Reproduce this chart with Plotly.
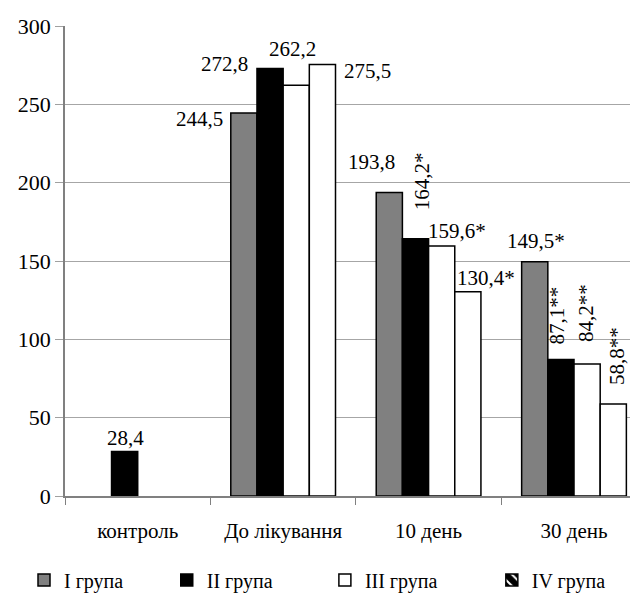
import plotly.graph_objects as go

categories = ["контроль", "До лікування", "10 день", "30 день"]
group_names = ["I група", "II група", "III група", "IV група"]
group1 = [None, 244.5, 193.8, 149.5]
group2 = [28.4, 272.8, 164.2, 87.1]
group3 = [None, 262.2, 159.6, 84.2]
group4 = [None, 275.5, 130.4, 58.8]
label_texts = [
    [None, "244,5", "193,8", "149,5*"],
    ["28,4", "272,8", "164,2*", "87,1**"],
    [None, "262,2", "159,6*", "84,2**"],
    [None, "275,5", "130,4*", "58,8**"],
]
y_ticks = [0, 50, 100, 150, 200, 250, 300]

# label placement (pixel offsets from category centre / bar top, rotation)
label_pos = [
    [None, (-84, -6, 0), (-57, 30, 0), (-38, 21, 0)],
    [(-12, 14, 0), (-59, 5, 0), (-7, 57, -90), (-17, 44, -90)],
    [None, (9, 36, 0), (28, 15, 0), (12, 51, -90)],
    [None, (84, -7, 0), (57, 14, 0), (43, 48, -90)],
]
legend_x = [0.0254, 0.252, 0.503, 0.768]

FONT = "Liberation Serif, Times New Roman, serif"
fill = ["#808080", "#000000", "#ffffff", "#ffffff"]
series = [group1, group2, group3, group4]
legend_ids = ["legend", "legend2", "legend3", "legend4"]

fig = go.Figure()
for i, (name, vals) in enumerate(zip(group_names, series)):
    fig.add_trace(go.Bar(
        x=categories, y=vals, name=name,
        marker=dict(color=fill[i], line=dict(color="#000000", width=1.5)),
        offsetgroup=str(i), showlegend=(i < 3), legend=legend_ids[i],
        hoverinfo="skip",
    ))
# legend entry for IV group (hatched icon)
fig.add_trace(go.Bar(
    x=categories, y=[None] * 4, name=group_names[3], offsetgroup="3",
    marker=dict(color="#ffffff", line=dict(color="#000000", width=1.5),
                pattern=dict(shape="\\", fgcolor="#000000", bgcolor="#ffffff",
                             fillmode="replace", size=10, solidity=0.75)),
    showlegend=True, legend="legend4",
))

for i, vals in enumerate(series):
    for j, v in enumerate(vals):
        if v is None:
            continue
        dx, dy, ang = label_pos[i][j]
        fig.add_annotation(
            x=categories[j], y=v, xshift=dx, yshift=dy, text=label_texts[i][j],
            showarrow=False, textangle=ang, xanchor="center", yanchor="middle",
            font=dict(family=FONT, size=21, color="#000000"),
        )

legend_common = dict(orientation="h", xref="container", xanchor="left",
                     yref="container", y=0.032, yanchor="middle",
                     font=dict(family=FONT, size=20, color="#000000"),
                     itemwidth=30, bgcolor="rgba(0,0,0,0)")
legends = {lid: dict(legend_common, x=lx) for lid, lx in zip(legend_ids, legend_x)}

fig.update_layout(
    width=630, height=591,
    margin=dict(l=57, r=0, t=18, b=103, autoexpand=False),
    paper_bgcolor="#ffffff", plot_bgcolor="#ffffff",
    barmode="group", bargap=0.28, bargroupgap=0,
    font=dict(family=FONT, size=21, color="#000000"),
    showlegend=True,
    **legends,
)
fig.update_xaxes(
    type="category", range=[-0.5, 3.44],
    showline=True, linecolor="#808080", linewidth=1.5,
    ticks="outside", tickson="boundaries", ticklen=7, tickcolor="#808080",
    ticklabelstandoff=15, showgrid=False,
    tickfont=dict(family=FONT, size=21),
)
fig.update_yaxes(
    range=[0, 300], tickvals=y_ticks, ticktext=[str(t) for t in y_ticks],
    showline=True, linecolor="#808080", linewidth=1.5,
    ticks="outside", ticklen=8, tickcolor="#a0a0a0",
    showgrid=True, gridcolor="#a6a6a6", gridwidth=1,
    zeroline=False,
    tickfont=dict(family=FONT, size=22),
)

fig.write_html("out.html")
